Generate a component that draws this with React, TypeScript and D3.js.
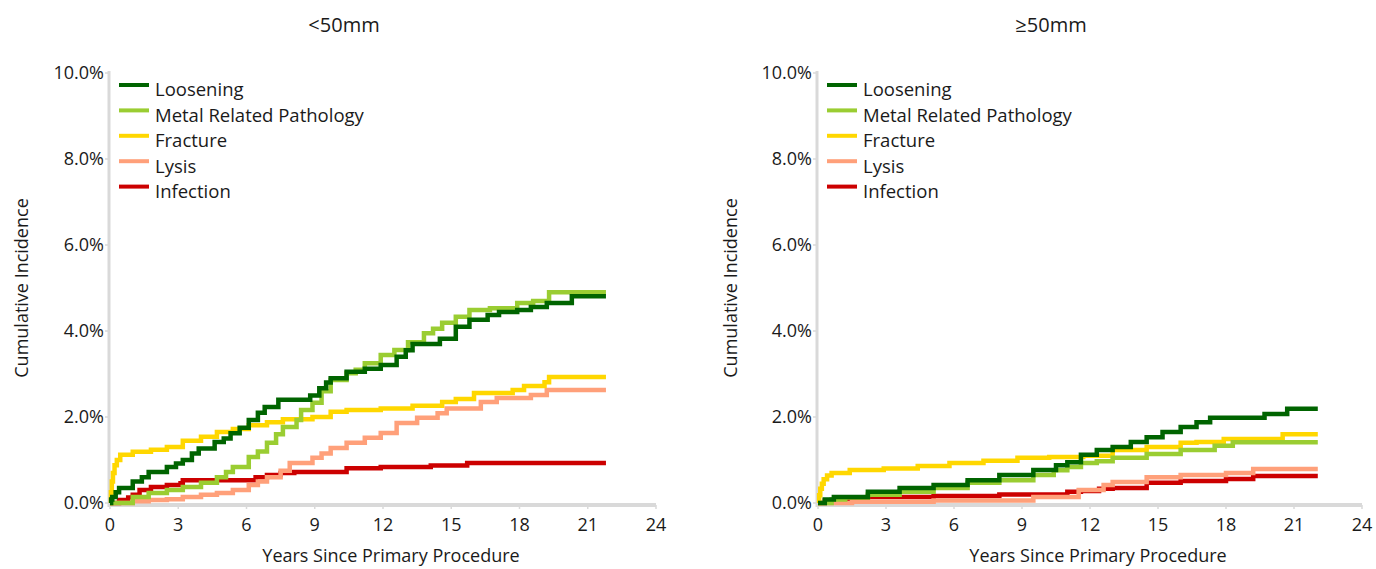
import React from 'react';
import * as d3 from 'd3';

type Pt = [number, number];

const seriesNames = ['Loosening', 'Metal Related Pathology', 'Fracture', 'Lysis', 'Infection'];
const seriesColors = ['#006400', '#9acd32', '#ffd700', '#ffa07a', '#cc0000'];
const xTicks = [0, 3, 6, 9, 12, 15, 18, 21, 24];
const yTicks = [0, 2, 4, 6, 8, 10];

// <50mm  (years, cumulative incidence %)
const smallLoosening: Pt[] = [
  [0, 0], [0.05, 0.08], [0.1, 0.14], [0.25, 0.25], [0.4, 0.35], [1, 0.5], [1.4, 0.6], [1.7, 0.72],
  [2.5, 0.84], [2.9, 0.92], [3.2, 1.0], [3.6, 1.15], [3.9, 1.27], [4.6, 1.42], [5.0, 1.5],
  [5.3, 1.62], [5.7, 1.75], [6.1, 1.93], [6.5, 2.1], [6.8, 2.23], [7.4, 2.4], [8.8, 2.5],
  [9.2, 2.67], [9.5, 2.8], [9.7, 2.9], [10.4, 3.05], [11.2, 3.12], [11.9, 3.21], [12.6, 3.4],
  [13.0, 3.55], [13.3, 3.7], [14.5, 3.82], [15.2, 4.1], [15.8, 4.26], [16.6, 4.37], [17.1, 4.44],
  [17.9, 4.49], [18.5, 4.56], [19.2, 4.65], [20.3, 4.81], [21.8, 4.81],
];
const smallMetal: Pt[] = [
  [0, 0], [1, 0.14], [1.7, 0.23], [2.5, 0.3], [3.2, 0.37], [4, 0.47], [4.7, 0.6], [5.1, 0.72],
  [5.4, 0.84], [6.1, 1.07], [6.5, 1.2], [6.9, 1.4], [7.3, 1.6], [7.6, 1.77], [8.2, 1.93],
  [8.4, 2.16], [8.9, 2.33], [9.3, 2.6], [9.7, 2.86], [10.4, 3.02], [10.8, 3.1], [11.2, 3.25],
  [11.9, 3.44], [12.5, 3.56], [13.1, 3.74], [13.8, 3.95], [14.2, 4.05], [14.6, 4.19], [15.2, 4.33],
  [15.8, 4.49], [16.7, 4.53], [17.9, 4.65], [18.6, 4.7], [19.3, 4.9], [21.8, 4.9],
];
const smallFracture: Pt[] = [
  [0, 0], [0.04, 0.25], [0.08, 0.5], [0.13, 0.7], [0.2, 0.88], [0.3, 1.0], [0.45, 1.12], [1, 1.19],
  [1.8, 1.24], [2.5, 1.3], [3.2, 1.45], [4, 1.54], [4.7, 1.65], [5.4, 1.72], [6.1, 1.81],
  [6.9, 1.88], [7.6, 1.95], [8.9, 2.0], [9.7, 2.12], [10.4, 2.16], [11.9, 2.2], [13.3, 2.26],
  [14.6, 2.35], [15.2, 2.42], [16.0, 2.56], [17.7, 2.63], [18.2, 2.72], [19.1, 2.81], [19.3, 2.93],
  [21.8, 2.93],
];
const smallLysis: Pt[] = [
  [0, 0], [1, 0.04], [1.7, 0.07], [2.5, 0.09], [3.2, 0.14], [4, 0.19], [4.7, 0.23], [5.4, 0.3],
  [6.1, 0.42], [6.5, 0.5], [6.9, 0.6], [7.5, 0.75], [7.9, 0.93], [8.9, 1.05], [9.3, 1.15],
  [9.7, 1.28], [10.4, 1.4], [11.2, 1.52], [11.9, 1.63], [12.6, 1.86], [13.5, 1.98], [14.4, 2.09],
  [14.8, 2.2], [16.3, 2.35], [17.0, 2.44], [18.5, 2.51], [19.2, 2.63], [21.8, 2.63],
];
const smallInfection: Pt[] = [
  [0, 0], [0.4, 0.07], [0.8, 0.13], [1, 0.19], [1.3, 0.3], [1.8, 0.37], [2.5, 0.42], [3.1, 0.46],
  [3.2, 0.53], [6.4, 0.6], [6.9, 0.65], [7.5, 0.7], [8.1, 0.72], [10.4, 0.81], [11.9, 0.84],
  [14.1, 0.87], [15.7, 0.93], [21.8, 0.93],
];

// >=50mm
const largeLoosening: Pt[] = [
  [0, 0], [0.3, 0.08], [0.7, 0.14], [2.2, 0.26], [3.6, 0.35], [5.1, 0.42], [6.6, 0.53], [8, 0.65],
  [9.5, 0.77], [10.5, 0.88], [11, 0.95], [11.6, 1.12], [12.3, 1.23], [13, 1.3], [13.8, 1.42],
  [14.5, 1.53], [15.2, 1.65], [16, 1.77], [16.7, 1.88], [17.3, 1.98], [19.7, 2.07], [20.7, 2.19],
  [22.05, 2.19],
];
const largeMetal: Pt[] = [
  [0, 0], [0.6, 0.08], [1.2, 0.13], [2.2, 0.19], [3.6, 0.26], [5.1, 0.35], [6.6, 0.47], [8, 0.53],
  [9.5, 0.65], [10.4, 0.76], [11, 0.84], [11.6, 0.93], [12.3, 0.97], [13, 1.05], [14.5, 1.14],
  [16, 1.23], [17.5, 1.33], [18.3, 1.41], [22.05, 1.41],
];
const largeFracture: Pt[] = [
  [0, 0], [0.05, 0.18], [0.1, 0.33], [0.17, 0.45], [0.25, 0.55], [0.4, 0.64], [0.6, 0.7],
  [1.4, 0.77], [2.9, 0.8], [4.4, 0.86], [5.8, 0.93], [7.3, 0.98], [8.8, 1.05], [10.2, 1.07],
  [11.7, 1.1], [13, 1.23], [14.5, 1.3], [16, 1.4], [16.7, 1.42], [17.9, 1.49], [20.5, 1.6],
  [22.05, 1.6],
];
const largeLysis: Pt[] = [
  [0, 0], [1.5, 0.03], [5.1, 0.06], [9.5, 0.14], [11.5, 0.3], [12.6, 0.42], [13, 0.49],
  [14.5, 0.6], [16, 0.65], [18, 0.7], [19.2, 0.79], [22.05, 0.79],
];
const largeInfection: Pt[] = [
  [0, 0], [0.3, 0.06], [0.8, 0.1], [2.2, 0.14], [5.1, 0.16], [8, 0.2], [11, 0.26], [11.6, 0.28],
  [12.4, 0.33], [13, 0.35], [14.5, 0.47], [16, 0.51], [18, 0.56], [19.2, 0.63], [22.05, 0.63],
];

const smallSeries = [smallLoosening, smallMetal, smallFracture, smallLysis, smallInfection];
const largeSeries = [largeLoosening, largeMetal, largeFracture, largeLysis, largeInfection];

const FONT = '"Open Sans", sans-serif';
const AXIS_GREY = '#d9d9d9';
const TEXT = '#1a1a1a';

interface PanelProps {
  title: string;
  titleX: number;
  x0: number;
  x1: number;
  labelX: number;
  series: Pt[][];
}

const Panel: React.FC<PanelProps> = ({ title, titleX, x0, x1, labelX, series }) => {
  const x = d3.scaleLinear().domain([0, 24]).range([x0, x1]);
  const y = d3.scaleLinear().domain([0, 10]).range([503, 73]);
  const line = d3.line<Pt>()
    .x(d => x(d[0]))
    .y(d => y(d[1]))
    .curve(d3.curveStepAfter);

  // draw in reverse so loosening sits on top
  const order = [4, 3, 2, 1, 0];

  return (
    <g>
      <text x={titleX} y={25} dy="0.35em" textAnchor="middle" fontSize={20} fill={TEXT}>{title}</text>

      {/* y axis */}
      <line x1={x0 - 1} x2={x0 - 1} y1={71} y2={507} stroke={AXIS_GREY} strokeWidth={3} />
      {yTicks.map(t => (
        <g key={t}>
          <line x1={x0 - 5} x2={x0 - 1} y1={y(t)} y2={y(t)} stroke={AXIS_GREY} strokeWidth={1.5} />
          <text x={x0 - 6} y={y(t)} dy="0.35em" textAnchor="end" fontSize={18} fill={TEXT}>
            {t.toFixed(1)}%
          </text>
        </g>
      ))}
      <text
        transform={`translate(${labelX},288) rotate(-90)`}
        dy="0.35em"
        textAnchor="middle"
        fontSize={18}
        fill={TEXT}
      >
        Cumulative Incidence
      </text>

      {/* x axis */}
      <line x1={x0 - 2} x2={x1} y1={505} y2={505} stroke={AXIS_GREY} strokeWidth={4} />
      {xTicks.map(t => (
        <g key={t}>
          <line x1={x(t)} x2={x(t)} y1={505} y2={509} stroke={AXIS_GREY} strokeWidth={1.5} />
          <text x={x(t)} y={525} dy="0.35em" textAnchor="middle" fontSize={18} fill={TEXT}>{t}</text>
        </g>
      ))}
      <text x={(x0 + x1) / 2 + 8} y={556} dy="0.35em" textAnchor="middle" fontSize={18} fill={TEXT}>
        Years Since Primary Procedure
      </text>

      {/* curves */}
      {order.map(i => (
        <path
          key={i}
          d={line(series[i]) || ''}
          fill="none"
          stroke={seriesColors[i]}
          strokeWidth={4.5}
        />
      ))}

      {/* legend */}
      {seriesNames.map((name, i) => {
        const ly = 85 + i * 25.4;
        return (
          <g key={name}>
            <line x1={x0 + 9} x2={x0 + 39} y1={ly} y2={ly} stroke={seriesColors[i]} strokeWidth={4} />
            <text x={x0 + 45} y={ly + 5} dy="0.35em" fontSize={18.5} fill={TEXT}>{name}</text>
          </g>
        );
      })}
    </g>
  );
};

export default function App() {
  return (
    <svg
      width={1376}
      height={569}
      style={{ display: 'block', position: 'absolute', left: 0, top: 0, fontFamily: FONT }}
    >
      <rect width={1376} height={569} fill="#fff" />
      <Panel title="<50mm" titleX={344} x0={110} x1={656} labelX={22} series={smallSeries} />
      <Panel title="≥50mm" titleX={1051} x0={818} x1={1362} labelX={731} series={largeSeries} />
    </svg>
  );
}
